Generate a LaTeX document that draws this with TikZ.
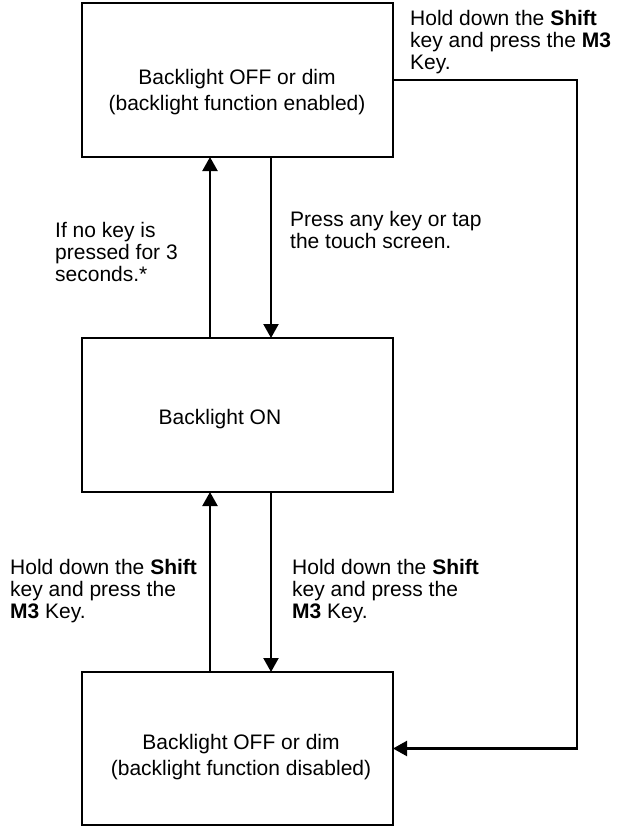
\documentclass[tikz,border=0pt]{standalone}
\usepackage{fontspec}
\setmainfont{Liberation Sans}
\usetikzlibrary{arrows.meta}
\begin{document}
\begin{tikzpicture}[x=1pt,y=-1pt,
  box/.style={draw,line width=2pt,minimum width=311pt,inner sep=0pt,outer sep=0pt},
  arr/.style={line width=2.2pt,-{Triangle[length=14pt,width=15pt]}},
  lbl/.style={anchor=base west,align=left,inner sep=0pt,font=\fontsize{21}{22}\selectfont},
  btxt/.style={anchor=base,align=center,inner sep=0pt,font=\fontsize{21}{26.5}\selectfont}]
\useasboundingbox (0,0) rectangle (625,827);
% boxes
\node[box,minimum height=154pt] (top) at (237.5,80) {};
\node[box,minimum height=154pt] (mid) at (237.5,415) {};
\node[box,minimum height=153pt] (bot) at (237.5,748.5) {};
% box texts (base anchor = last line's baseline)
\node[btxt] (toptxt) at (237,110.5) {Backlight OFF or dim\\(backlight function enabled)};
\node[btxt] (midtxt) at (220,424) {Backlight ON};
\node[btxt] (bottxt) at (241,775.5) {Backlight OFF or dim\\(backlight function disabled)};
% connector x positions
\coordinate (xa) at (210,0);
\coordinate (xb) at (271,0);
\coordinate (xr) at (577,0);
% arrows
\draw[arr] (mid.north -| xa) -- (top.south -| xa);
\draw[arr] (top.south -| xb) -- (mid.north -| xb);
\draw[arr] (bot.north -| xa) -- (mid.south -| xa);
\draw[arr] (mid.south -| xb) -- (bot.north -| xb);
\draw[arr] (top.east) -- (top.east -| xr) |- (bot.east);
% labels
\node[lbl] (l1) at (410,69) {Hold down the \textbf{Shift}\\key and press the \textbf{M3}\\Key.};
\node[lbl] (l2) at (55,281) {If no key is\\pressed for 3\\seconds.*};
\node[lbl] (l3) at (290,248) {Press any key or tap\\the touch screen.};
\node[lbl] (l4) at (10,618) {Hold down the \textbf{Shift}\\key and press the\\\textbf{M3} Key.};
\node[lbl] (l5) at (292,618) {Hold down the \textbf{Shift}\\key and press the\\\textbf{M3} Key.};
\end{tikzpicture}
\end{document}
